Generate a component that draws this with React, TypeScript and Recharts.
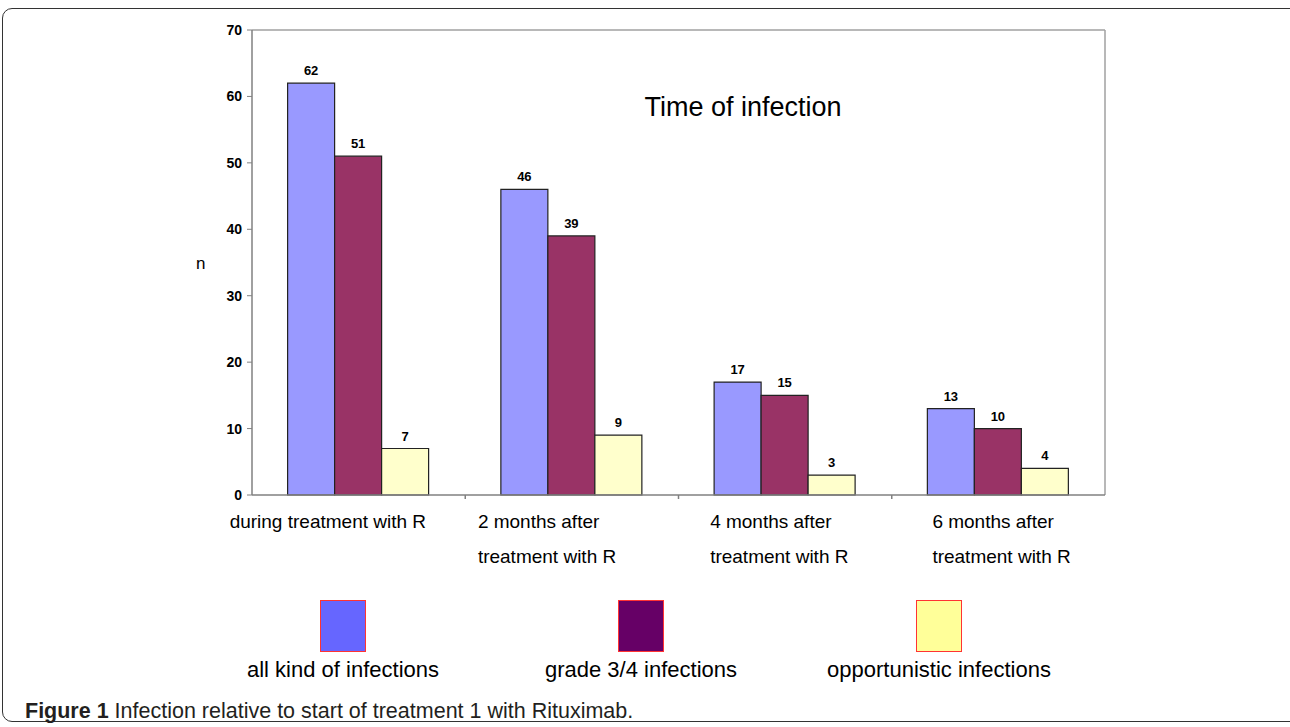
import {
  BarChart,
  Bar,
  XAxis,
  YAxis,
  LabelList,
  CartesianGrid,
} from 'recharts';

const categories = [
  'during treatment with R',
  '2 months after\ntreatment with R',
  '4 months after\ntreatment with R',
  '6 months after\ntreatment with R',
];
const allInfections = [62, 46, 17, 13];
const grade34 = [51, 39, 15, 10];
const opportunistic = [7, 9, 3, 4];
const yTicks = [0, 10, 20, 30, 40, 50, 60, 70];

const SERIES = [
  { key: 'all', name: 'all kind of infections', fill: '#9999ff', swatch: '#6666ff' },
  { key: 'grade', name: 'grade 3/4 infections', fill: '#993366', swatch: '#660066' },
  { key: 'opp', name: 'opportunistic infections', fill: '#ffffcc', swatch: '#ffff99' },
];

// Excel left-aligns the wrapped labels a bit left of each category centre
const TICK_SHIFT = [-129, -94, -75, -66];

const data = categories.map((c, i) => ({
  category: c,
  all: allInfections[i],
  grade: grade34[i],
  opp: opportunistic[i],
}));

const FONT = '"Liberation Sans", Arial, sans-serif';

function CategoryTick(props: any) {
  const { x, y, payload, index } = props;
  const lines = String(payload.value).split('\n');
  const half = payload.offset || 0;
  return (
    <g>
      {/* Excel puts its tick marks between categories */}
      {index < categories.length - 1 && (
        <line x1={x + half} x2={x + half} y1={y} y2={y + 4} stroke="#808080" strokeWidth={1.5} />
      )}
      {lines.map((line, i) => (
        <text
          key={i}
          x={x + TICK_SHIFT[index]}
          y={y + 26 + i * 35}
          textAnchor="start"
          dominantBaseline="central"
          fontSize={19}
          fill="#000"
          fontFamily={FONT}
        >
          {line}
        </text>
      ))}
    </g>
  );
}

export default function App() {
  return (
    <div
      style={{
        position: 'absolute',
        left: 0,
        top: 0,
        width: 1290,
        height: 727,
        overflow: 'hidden',
        background: '#fff',
        fontFamily: FONT,
      }}
    >
      {/* figure frame */}
      <div
        style={{
          position: 'absolute',
          left: 2,
          top: 8,
          width: 1300,
          height: 712,
          border: '1.5px solid #333',
          borderRadius: 10,
        }}
      />

      <div style={{ position: 'absolute', left: 0, top: 0 }}>
        <BarChart
          width={1290}
          height={600}
          data={data}
          margin={{ top: 30, right: 185, left: 192, bottom: 25 }}
          barCategoryGap="16.7%"
          barGap={0}
        >
          {/* plot frame: top and right edges only */}
          <CartesianGrid
            stroke="#a0a0a0"
            strokeWidth={1.5}
            horizontalCoordinatesGenerator={({ offset }: any) => [offset.top]}
            verticalCoordinatesGenerator={({ offset }: any) => [offset.left + offset.width]}
          />
          <XAxis
            dataKey="category"
            interval={0}
            height={80}
            tickLine={false}
            tickSize={0}
            tickMargin={0}
            axisLine={{ stroke: '#808080', strokeWidth: 1.5 }}
            tick={<CategoryTick />}
          />
          <YAxis
            domain={[0, 70]}
            ticks={yTicks}
            width={60}
            tickSize={5}
            tickMargin={5}
            axisLine={{ stroke: '#808080', strokeWidth: 1.5 }}
            tickLine={{ stroke: '#808080' }}
            tick={{ fill: '#000', fontSize: 14, fontWeight: 'bold', fontFamily: FONT }}
            label={{
              value: 'n',
              position: 'insideLeft',
              offset: 4,
              angle: 0,
              fontSize: 17,
              fill: '#000',
              fontFamily: FONT,
            }}
          />
          {SERIES.map(s => (
            <Bar
              key={s.key}
              dataKey={s.key}
              name={s.name}
              fill={s.fill}
              stroke="#222"
              strokeWidth={1.2}
              isAnimationActive={false}
            >
              <LabelList
                dataKey={s.key}
                position="top"
                offset={8}
                fontSize={13}
                fontWeight="bold"
                fill="#000"
                fontFamily={FONT}
              />
            </Bar>
          ))}
        </BarChart>
      </div>

      <div
        style={{
          position: 'absolute',
          left: 593,
          top: 91,
          fontSize: 27,
          lineHeight: '32px',
          color: '#000',
          whiteSpace: 'nowrap',
          width: 300,
          textAlign: 'center',
        }}
      >
        Time of infection
      </div>

      {/* legend */}
      {SERIES.map((s, i) => (
        <div
          key={s.key}
          style={{
            position: 'absolute',
            left: 193 + i * 298,
            top: 600,
            width: 300,
            display: 'flex',
            flexDirection: 'column',
            alignItems: 'center',
          }}
        >
          <div
            style={{
              width: 44,
              height: 50,
              background: s.swatch,
              border: '1.5px solid #ff3333',
            }}
          />
          <div style={{ marginTop: 5, fontSize: 22, lineHeight: '26px', color: '#000', whiteSpace: 'nowrap' }}>
            {s.name}
          </div>
        </div>
      ))}

      <div
        style={{
          position: 'absolute',
          left: 25,
          top: 698,
          fontSize: 21.5,
          lineHeight: '26px',
          color: '#231f20',
          whiteSpace: 'nowrap',
        }}
      >
        <b>Figure 1</b> Infection relative to start of treatment 1 with Rituximab.
      </div>
    </div>
  );
}
